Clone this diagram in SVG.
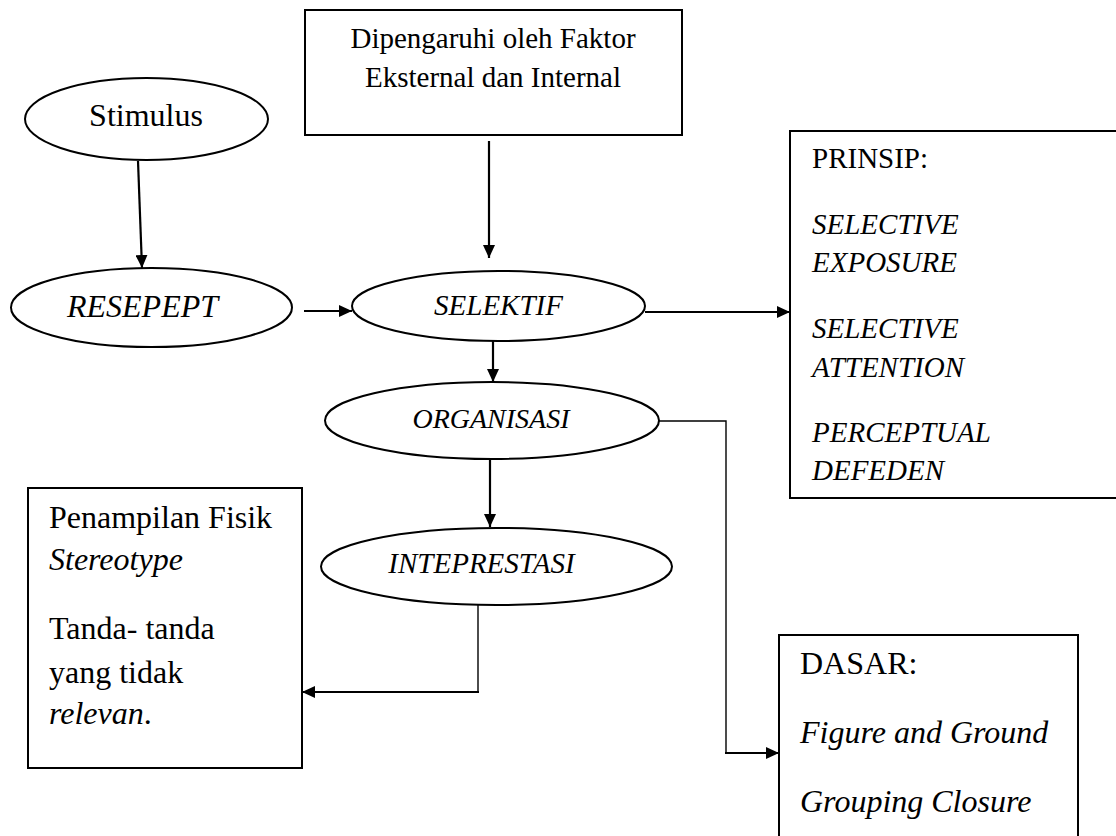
<svg xmlns="http://www.w3.org/2000/svg" width="1116" height="836" viewBox="0 0 1116 836" font-family="'Liberation Serif', 'Times New Roman', 'DejaVu Serif', serif">
<style>
.shape{fill:#fff;stroke:#000;stroke-width:2}
text{fill:#000}
.i{font-style:italic}
.c{text-anchor:middle}
.s32{font-size:32px}
.s29{font-size:29px}
.s28{font-size:28px}
.con{fill:none;stroke:#000;stroke-width:2.2}
.thin{fill:none;stroke:#000;stroke-width:1.4}
</style>
<defs>
<marker id="arr" markerUnits="userSpaceOnUse" markerWidth="13" markerHeight="12" refX="13" refY="6" orient="auto">
<path d="M0,0 L13,6 L0,12 z" fill="#000"/>
</marker>
</defs>
<rect width="1116" height="836" fill="#fff"/>
<g id="connectors">
<path class="con" d="M138,161 L142,268" marker-end="url(#arr)"/>
<path class="con" d="M489,141 L489,258" marker-end="url(#arr)"/>
<path class="con" d="M304,311 L352,311" marker-end="url(#arr)"/>
<path class="con" d="M645,312 L790,312" marker-end="url(#arr)"/>
<path class="con" d="M493,340 L493,382" marker-end="url(#arr)"/>
<path class="con" d="M490,459 L490,527" marker-end="url(#arr)"/>
<path class="thin" d="M659,421 H726 V753"/>
<path class="con" d="M725,753 H779" marker-end="url(#arr)"/>
<path class="thin" d="M478,605 V692"/>
<path class="con" d="M479,692 H302" marker-end="url(#arr)"/>
</g>
<g id="stimulus" font-family="'Liberation Serif', serif">
<ellipse class="shape" cx="146.5" cy="119" rx="121.5" ry="41"/>
<text class="s32 c" x="146" y="126">Stimulus</text>
</g>
<g id="faktor" font-family="'Liberation Serif', serif">
<rect class="shape" x="305" y="10" width="377" height="125"/>
<text class="s29 c" x="493" y="48">Dipengaruhi oleh Faktor</text>
<text class="s29 c" x="493" y="87">Eksternal dan Internal</text>
</g>
<g id="resepept" font-family="'Liberation Serif', serif">
<ellipse class="shape" cx="151.5" cy="307.5" rx="140.5" ry="39.5"/>
<text class="s32 i c" x="142.5" y="317">RESEPEPT</text>
</g>
<g id="selektif" font-family="'Liberation Serif', serif">
<ellipse class="shape" cx="498.5" cy="306" rx="146.5" ry="35"/>
<text class="s29 i c" x="498.5" y="315">SELEKTIF</text>
</g>
<g id="prinsip" font-family="'Liberation Serif', serif">
<rect class="shape" x="790" y="131" width="340" height="367"/>
<text class="s29" x="812" y="168">PRINSIP:</text>
<text class="s29 i" x="812" y="234">SELECTIVE</text>
<text class="s29 i" x="812" y="272">EXPOSURE</text>
<text class="s29 i" x="812" y="338">SELECTIVE</text>
<text class="s29 i" x="812" y="377">ATTENTION</text>
<text class="s29 i" x="812" y="442">PERCEPTUAL</text>
<text class="s29 i" x="812" y="480">DEFEDEN</text>
</g>
<g id="organisasi" font-family="'Liberation Serif', serif">
<ellipse class="shape" cx="492" cy="420.5" rx="167" ry="38.5"/>
<text class="s28 i c" x="491" y="428">ORGANISASI</text>
</g>
<g id="intepretasi" font-family="'Liberation Serif', serif">
<ellipse class="shape" cx="496.5" cy="566.5" rx="175.5" ry="38.5"/>
<text class="s29 i c" x="481.5" y="573">INTEPRESTASI</text>
</g>
<g id="penampilan" font-family="'Liberation Serif', serif">
<rect class="shape" x="28" y="488" width="274" height="280"/>
<text class="s32" x="49" y="528">Penampilan Fisik</text>
<text class="s32 i" x="49" y="570">Stereotype</text>
<text class="s32" x="49" y="639">Tanda- tanda</text>
<text class="s32" x="49" y="683">yang tidak</text>
<text class="s32" x="49" y="724"><tspan class="i">relevan</tspan>.</text>
</g>
<g id="dasar" font-family="'Liberation Serif', serif">
<rect class="shape" x="779" y="635" width="299" height="230"/>
<text class="s32" x="800" y="674">DASAR:</text>
<text class="s32 i" x="800" y="743">Figure and Ground</text>
<text class="s32 i" x="800" y="812">Grouping Closure</text>
</g>
</svg>
